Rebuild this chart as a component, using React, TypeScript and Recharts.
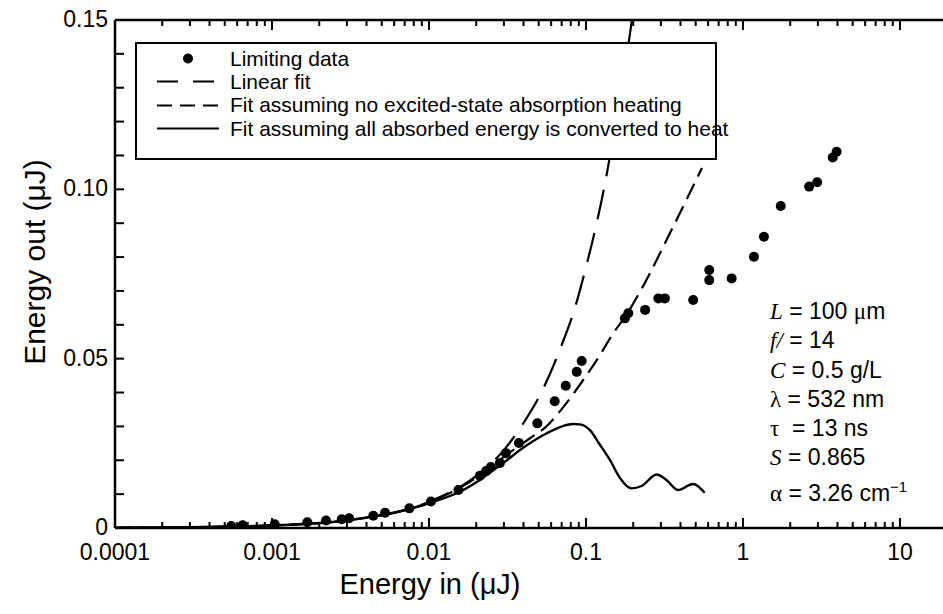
import React from 'react'
import { ComposedChart, Line, Scatter, XAxis, YAxis } from 'recharts'

const FONT = '"Liberation Sans", Arial, Helvetica, sans-serif'
const SERIF = '"Liberation Serif", "Times New Roman", serif'

// measured limiting data (energy in / energy out, µJ)
const limitingIn = [
  0.00055, 0.00065, 0.00104, 0.00168, 0.00221, 0.00278, 0.0031, 0.00442, 0.00525, 0.0075,
  0.0103, 0.0154, 0.0211, 0.0231, 0.0248, 0.0283, 0.0309, 0.0374, 0.049, 0.0632, 0.0743,
  0.0873, 0.0939, 0.177, 0.186, 0.238, 0.289, 0.318, 0.482, 0.61, 0.61, 0.847, 1.175, 1.36,
  1.74, 2.64, 2.97, 3.73, 3.95,
]
const limitingOut = [
  0.0006, 0.0008, 0.0011, 0.0017, 0.0022, 0.0026, 0.0029, 0.0036, 0.0045, 0.0058, 0.0078,
  0.0112, 0.0154, 0.0168, 0.018, 0.0192, 0.0221, 0.0251, 0.0309, 0.0374, 0.042, 0.0461,
  0.0493, 0.0619, 0.0634, 0.0644, 0.0678, 0.0678, 0.0673, 0.0732, 0.0762, 0.0737, 0.0801,
  0.086, 0.0951, 0.1008, 0.1021, 0.1094, 0.1111,
]

// linear fit
const linearIn = [0.0001, 0.0003, 0.001, 0.003, 0.01, 0.02, 0.03, 0.04, 0.05, 0.07, 0.085, 0.1, 0.115, 0.13, 0.145, 0.16, 0.175, 0.196]
const linearOut = [0.00008, 0.00023, 0.00077, 0.0023, 0.0077, 0.0154, 0.023, 0.031, 0.0385, 0.054, 0.065, 0.077, 0.0885, 0.1, 0.112, 0.123, 0.134, 0.15]

// fit assuming no excited-state absorption heating
const noEsaIn = [0.0001, 0.0003, 0.001, 0.003, 0.01, 0.02, 0.03, 0.044, 0.056, 0.072, 0.096, 0.123, 0.149, 0.177, 0.231, 0.343, 0.548]
const noEsaOut = [0.00008, 0.00023, 0.00077, 0.0023, 0.0076, 0.0148, 0.021, 0.0265, 0.03, 0.0358, 0.0437, 0.0511, 0.0575, 0.0623, 0.0714, 0.0871, 0.1063]

// fit assuming all absorbed energy is converted to heat
const heatIn = [
  0.0001, 0.0003, 0.001, 0.003, 0.01, 0.0157, 0.0211, 0.0297, 0.0419, 0.0559, 0.0714, 0.0828,
  0.0913, 0.106, 0.123, 0.142, 0.165, 0.195, 0.226, 0.282, 0.325, 0.386, 0.481, 0.57,
]
const heatOut = [
  0.00008, 0.00023, 0.00075, 0.0022, 0.0073, 0.0107, 0.0142, 0.0192, 0.0244, 0.0279, 0.0301,
  0.0307, 0.0306, 0.0289, 0.0245, 0.0201, 0.0147, 0.0117, 0.0124, 0.0158, 0.0142, 0.0112,
  0.013, 0.0104,
]

const xTicks = [
  0.0001, 0.0002, 0.0003, 0.0004, 0.0005, 0.0006, 0.0007, 0.0008, 0.0009,
  0.001, 0.002, 0.003, 0.004, 0.005, 0.006, 0.007, 0.008, 0.009,
  0.01, 0.02, 0.03, 0.04, 0.05, 0.06, 0.07, 0.08, 0.09,
  0.1, 0.2, 0.3, 0.4, 0.5, 0.6, 0.7, 0.8, 0.9,
  1, 2, 3, 4, 5, 6, 7, 8, 9, 10,
]
const xLabels: Record<string, string> = { '0.0001': '0.0001', '0.001': '0.001', '0.01': '0.01', '0.1': '0.1', '1': '1', '10': '10' }
const yTicks = [0, 0.01, 0.02, 0.03, 0.04, 0.05, 0.06, 0.07, 0.08, 0.09, 0.1, 0.11, 0.12, 0.13, 0.14, 0.15]
const yLabels: Record<string, string> = { '0': '0', '0.05': '0.05', '0.1': '0.10', '0.15': '0.15' }

const pairs = (xs: number[], ys: number[]) => xs.map((x, i) => ({ x, y: ys[i] }))
const limitingData = pairs(limitingIn, limitingOut)
const linearData = pairs(linearIn, linearOut)
const noEsaData = pairs(noEsaIn, noEsaOut)
const heatData = pairs(heatIn, heatOut)

const X_DOMAIN: [number, number] = [0.0001, 18.8]

const BottomTick = (props: any) => {
  const { x, y, payload } = props
  const label = xLabels[String(payload.value)]
  return (
    <g>
      <line x1={x} y1={y} x2={x} y2={y - (label ? 10 : 6)} stroke="#000" strokeWidth={2} />
      {label && (
        <text x={x} y={y + 32} textAnchor="middle" fontSize={23} fontFamily={FONT} fill="#000">
          {label}
        </text>
      )}
    </g>
  )
}

const TopTick = (props: any) => {
  const { x, y, payload } = props
  const major = !!xLabels[String(payload.value)]
  return <line x1={x} y1={y} x2={x} y2={y + (major ? 10 : 6)} stroke="#000" strokeWidth={2} />
}

const LeftTick = (props: any) => {
  const { x, y, payload } = props
  const label = yLabels[String(payload.value)]
  return (
    <g>
      <line x1={x} y1={y} x2={x + 9} y2={y} stroke="#000" strokeWidth={2} />
      {label && (
        <text x={x - 7} y={y + 7} textAnchor="end" fontSize={23} fontFamily={FONT} fill="#000">
          {label}
        </text>
      )}
    </g>
  )
}

const Dot = (props: any) => <circle cx={props.cx} cy={props.cy} r={5} fill="#000" />

const legendRows = [
  { name: 'Limiting data', kind: 'dot' },
  { name: 'Linear fit', kind: 'long' },
  { name: 'Fit assuming no excited-state absorption heating', kind: 'medium' },
  { name: 'Fit assuming all absorbed energy is converted to heat', kind: 'solid' },
]

const LegendBox = () => (
  <div
    style={{
      position: 'absolute', left: 135, top: 42, width: 578, height: 111,
      border: '2px solid #000', background: '#fff', paddingTop: 3, fontFamily: FONT, fontSize: 21,
    }}
  >
    {legendRows.map((r) => (
      <div key={r.name} style={{ display: 'flex', alignItems: 'center', height: 23.3 }}>
        <svg width={93} height={23} style={{ flex: 'none' }}>
          {r.kind === 'dot' && <circle cx={51} cy={11.5} r={5} fill="#000" />}
          {r.kind === 'long' && <line x1={20} y1={11.5} x2={82} y2={11.5} stroke="#000" strokeWidth={2} strokeDasharray="21 15" />}
          {r.kind === 'medium' && <line x1={20} y1={11.5} x2={82} y2={11.5} stroke="#000" strokeWidth={2} strokeDasharray="15 8" />}
          {r.kind === 'solid' && <line x1={20} y1={11.5} x2={82} y2={11.5} stroke="#000" strokeWidth={2} />}
        </svg>
        <span style={{ whiteSpace: 'nowrap' }}>{r.name}</span>
      </div>
    ))}
  </div>
)

const it = { fontFamily: SERIF, fontStyle: 'italic' as const }
const gr = { fontFamily: SERIF }

export default function App() {
  return (
    <div style={{ position: 'absolute', left: 0, top: 0, width: 943, height: 614, background: '#fff', fontFamily: FONT }}>
      <ComposedChart width={943} height={614} margin={{ top: 0, right: 0, bottom: 0, left: 0 }}>
        <XAxis
          xAxisId="top" orientation="top" type="number" dataKey="x" scale="log" domain={X_DOMAIN}
          allowDataOverflow ticks={xTicks} interval={0} tickSize={0} tickMargin={0} height={20}
          tick={<TopTick />} stroke="#000" strokeWidth={2.5}
        />
        <XAxis
          type="number" dataKey="x" scale="log" domain={X_DOMAIN} allowDataOverflow ticks={xTicks}
          interval={0} tickSize={0} tickMargin={0} height={86} tick={<BottomTick />}
          stroke="#000" strokeWidth={2.5}
        />
        <YAxis
          type="number" domain={[0, 0.15]} allowDataOverflow ticks={yTicks} interval={0} width={115}
          tickSize={0} tickMargin={0} tick={<LeftTick />} stroke="#000" strokeWidth={2.5}
        />
        <Line data={linearData} dataKey="y" type="monotone" stroke="#000" strokeWidth={2.2} strokeDasharray="30 14" dot={false} activeDot={false} isAnimationActive={false} />
        <Line data={noEsaData} dataKey="y" type="monotone" stroke="#000" strokeWidth={2.2} strokeDasharray="17 8" dot={false} activeDot={false} isAnimationActive={false} />
        <Line data={heatData} dataKey="y" type="monotone" stroke="#000" strokeWidth={2.4} dot={false} activeDot={false} isAnimationActive={false} />
        <Scatter data={limitingData} dataKey="y" shape={Dot} isAnimationActive={false} />
      </ComposedChart>

      <LegendBox />

      <div style={{ position: 'absolute', left: 770, top: 297, fontSize: 23, lineHeight: '28.3px', whiteSpace: 'nowrap' }}>
        <div><span style={it}>L</span> = 100 <span style={gr}>μ</span>m</div>
        <div><span style={it}>f/</span> = 14</div>
        <div><span style={it}>C</span> = 0.5 g/L</div>
        <div><span style={gr}>λ</span> = 532 nm</div>
        <div><span style={gr}>τ</span>&nbsp; = 13 ns</div>
        <div><span style={it}>S</span> = 0.865</div>
        <div><span style={gr}>α</span> = 3.26 cm<sup style={{ fontSize: 15 }}>−1</sup></div>
      </div>

      <div style={{ position: 'absolute', left: 230, width: 400, top: 568, textAlign: 'center', fontSize: 29, whiteSpace: 'nowrap' }}>
        Energy in (μJ)
      </div>
      <div
        style={{
          position: 'absolute', left: 35, top: 262, fontSize: 30, whiteSpace: 'nowrap',
          transform: 'translate(-50%, -50%) rotate(-90deg)',
        }}
      >
        Energy out (μJ)
      </div>
    </div>
  )
}
